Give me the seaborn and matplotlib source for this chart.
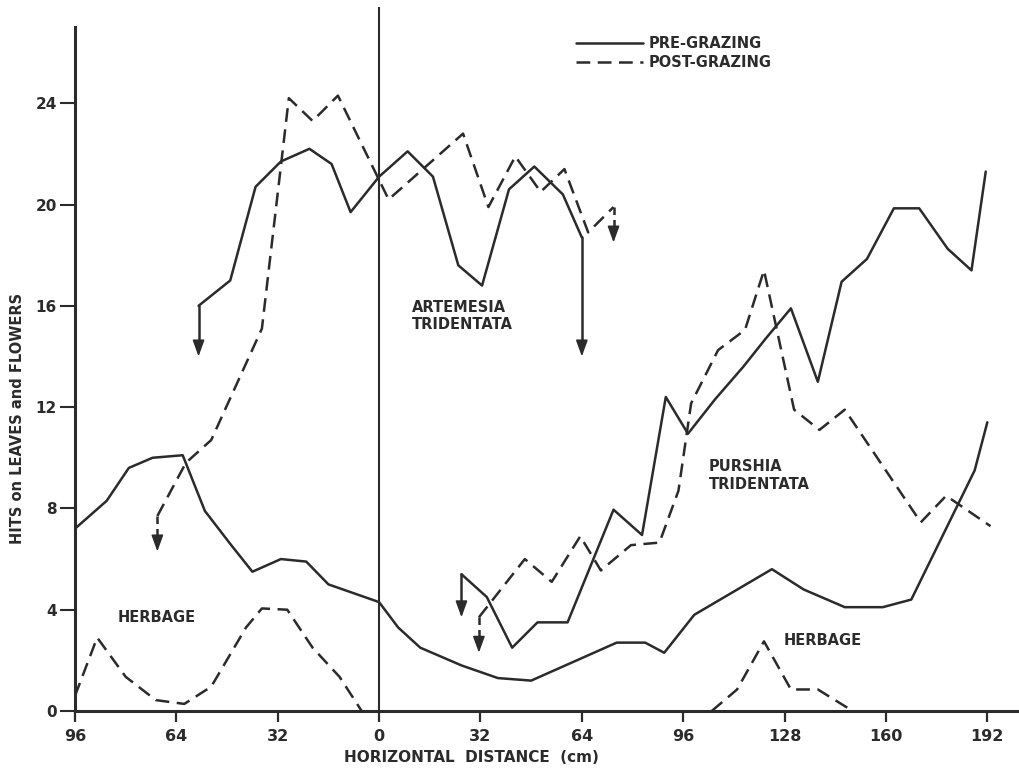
import matplotlib
matplotlib.use("Agg")
import matplotlib.pyplot as plt
import seaborn as sns

# Horizontal distance (cm): negative = left of the shrub centre, shown as absolute values
# Artemesia tridentata canopy
art_pre_x = [-57, -47, -39, -31, -22, -15, -9, 0, 9, 17, 25, 32.5, 41, 49, 58, 64]
art_pre_y = [16.0, 17.0, 20.7, 21.7, 22.2, 21.6, 19.7, 21.1, 22.1, 21.1, 17.6, 16.8, 20.6, 21.5, 20.4, 18.7]
art_post_x = [-70, -61, -53, -37, -28.5, -21, -13, 3, 26.5, 34.5, 43, 51, 58.5, 66, 74]
art_post_y = [7.7, 9.8, 10.7, 15.1, 24.2, 23.3, 24.3, 20.2, 22.8, 19.9, 21.9, 20.5, 21.4, 18.9, 19.9]

# Purshia tridentata canopy
pur_pre_x = [26, 34, 42, 50, 59.5, 74, 83, 90.5, 97.5, 106, 115, 122, 130, 138.5, 146, 154,
             162.5, 170.5, 179.5, 187, 191.5]
pur_pre_y = [5.4, 4.5, 2.5, 3.5, 3.5, 7.95, 6.95, 12.4, 10.95, 12.3, 13.6, 14.7, 15.9, 13.0, 16.95,
             17.85, 19.85, 19.85, 18.25, 17.4, 21.3]
pur_post_x = [31.5, 46, 54.5, 63.5, 70, 79.5, 88.5, 94.5, 98.5, 107, 115.5, 121.5, 131, 139, 147,
              171, 179, 193]
pur_post_y = [3.7, 6.0, 5.1, 6.9, 5.55, 6.55, 6.65, 8.7, 12.15, 14.25, 15.05, 17.4, 11.9, 11.1, 11.9,
              7.45, 8.5, 7.3]

# Herbage
herb_pre_x = [-96, -86, -79, -71.5, -62, -55, -47, -40, -31, -23, -16, 0, 6, 13, 26, 37.5, 48, 75,
              84, 90, 99.5, 124, 134, 147, 159, 168, 188, 192]
herb_pre_y = [7.2, 8.3, 9.6, 10.0, 10.1, 7.9, 6.6, 5.5, 6.0, 5.9, 5.0, 4.3, 3.3, 2.5, 1.8, 1.3, 1.2,
              2.7, 2.7, 2.3, 3.8, 5.6, 4.8, 4.1, 4.1, 4.4, 9.5, 11.4]
herb_post_l_x = [-96, -89, -80, -70.5, -61.5, -53, -42, -37, -29, -21, -12.5, -5.5]
herb_post_l_y = [0.6, 2.9, 1.35, 0.43, 0.28, 0.96, 3.3, 4.05, 4.0, 2.5, 1.35, 0.0]
herb_post_r_x = [105, 113, 121.5, 130, 138.5, 149.5]
herb_post_r_y = [0.0, 0.85, 2.75, 0.85, 0.85, 0.0]

# Canopy-edge arrows: x, start value, tip value, dashed?
arrow_x = [-57, 64, -70, 74, 26, 31.5]
arrow_from = [16.0, 18.7, 7.7, 19.9, 5.4, 3.7]
arrow_to = [14.0, 14.0, 6.3, 18.5, 3.7, 2.3]
arrow_dashed = [False, False, True, True, False, True]

x_ticks = [-96, -64, -32, 0, 32, 64, 96, 128, 160, 192]
y_ticks = [0, 4, 8, 12, 16, 20, 24]

sns.set_style("ticks")
plt.rcParams['font.family'] = ['DejaVu Sans']
plt.rcParams['font.weight'] = 'bold'

INK = '#2b2b2b'
LW = 1.8
DASH = (0, (5.5, 3.0))

fig = plt.figure(figsize=(10.19, 7.71), dpi=100)
ax = fig.add_axes([75 / 1019, 60 / 771, 944 / 1019, 704 / 771])


def draw(xs, ys, dashed, label=None):
    sns.lineplot(x=xs, y=ys, ax=ax, color=INK, lw=LW,
                 linestyle=DASH if dashed else '-',
                 sort=False, estimator=None, label=label)


draw(art_pre_x, art_pre_y, False, 'PRE-GRAZING')
draw(art_post_x, art_post_y, True, 'POST-GRAZING')
draw(pur_pre_x, pur_pre_y, False)
draw(pur_post_x, pur_post_y, True)
draw(herb_pre_x, herb_pre_y, False)
draw(herb_post_l_x, herb_post_l_y, True)
draw(herb_post_r_x, herb_post_r_y, True)

# Arrows marking the canopy edges: shaft in the series' line style, solid filled head
HEAD = 0.45
for a_x, y0, y1, dsh in zip(arrow_x, arrow_from, arrow_to, arrow_dashed):
    ax.plot([a_x, a_x], [y0, y1 + HEAD], color=INK, lw=LW,
            linestyle=(0, (3.0, 2.0)) if dsh else '-')
    ax.annotate('', xy=(a_x, y1), xytext=(a_x, y1 + HEAD + 0.05),
                arrowprops=dict(arrowstyle='-|>,head_length=0.55,head_width=0.2',
                                color=INK, lw=1.2, shrinkA=0, shrinkB=0,
                                mutation_scale=18))

# Shrub centre line
ax.axvline(0, color=INK, lw=1.5)

ax.set_xlim(-96, 202)
ax.set_ylim(0, 27.8)
ax.set_xticks(x_ticks)
ax.set_xticklabels([str(abs(v)) for v in x_ticks])
ax.set_yticks(y_ticks)
ax.set_yticklabels([str(v) for v in y_ticks])
ax.tick_params(axis='x', direction='out', length=8, width=1.6, pad=5,
               labelsize=11.5, colors=INK)
ax.tick_params(axis='y', direction='out', length=11, width=1.5, pad=2,
               labelsize=11, colors=INK)
for s in ('top', 'right'):
    ax.spines[s].set_visible(False)
ax.spines['left'].set_bounds(0, 27.0)
for s in ('left', 'bottom'):
    ax.spines[s].set_linewidth(2.2)
    ax.spines[s].set_color(INK)
ax.set_xlabel('')
ax.set_ylabel('')

txt = dict(color=INK, fontsize=10.5, fontweight='bold')
ax.text(10.4, 15.6, 'ARTEMESIA\nTRIDENTATA', ha='left', va='center', linespacing=1.2, **txt)
ax.text(104.1, 9.3, 'PURSHIA\nTRIDENTATA', ha='left', va='center', linespacing=1.2, **txt)
ax.text(-82.6, 3.69, 'HERBAGE', ha='left', va='center', **txt)
ax.text(127.8, 2.8, 'HERBAGE', ha='left', va='center', **txt)

handles, labels = ax.get_legend_handles_labels()
ax.legend(handles, labels, loc='upper left', bbox_to_anchor=(576 / 1019, 1 - 36 / 771),
          bbox_transform=fig.transFigure, frameon=False, fontsize=10.5,
          handlelength=4.6, handletextpad=0.35, labelspacing=0.3, borderpad=0,
          borderaxespad=0, labelcolor=INK)

fig.text(18 / 1019, 1 - 418 / 771, 'HITS on LEAVES and FLOWERS', rotation=90,
         ha='center', va='center', **txt)
fig.text(471 / 1019, 1 - 757 / 771, 'HORIZONTAL  DISTANCE  (cm)', ha='center', va='center',
         color=INK, fontsize=11, fontweight='bold')

fig.savefig('out.png', dpi=100, facecolor='white')
